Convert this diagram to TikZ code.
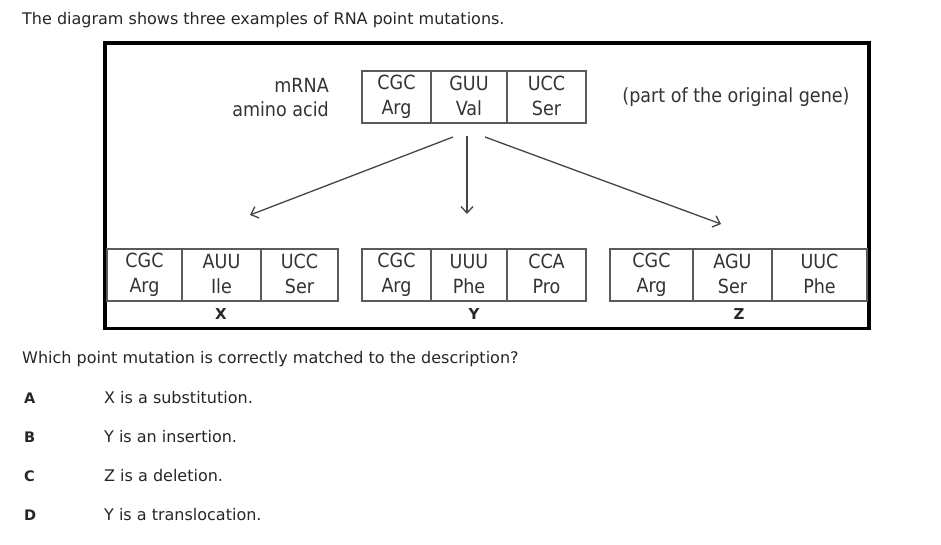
\documentclass[tikz,border=0pt]{standalone}
\usepackage{fontspec}
\setmainfont{DejaVu Sans}
\newfontfamily\condfont{DejaVu Sans Condensed}
\usetikzlibrary{arrows.meta}
\newcommand\cellstrut{\rule[-2pt]{0pt}{22pt}}
\definecolor{boxgray}{HTML}{5A5A5A}
\definecolor{txtgray}{HTML}{333333}
\definecolor{arrgray}{HTML}{444444}
\tikzset{
  cell/.style={draw=boxgray, line width=1.2pt, minimum height=52pt, inner sep=0pt,
    align=center, text=txtgray, font={\condfont\fontsize{19.5}{25}\selectfont},
    execute at begin node=\cellstrut, execute at end node=\cellstrut},
  side/.style={inner sep=0pt, text=txtgray, font={\condfont\fontsize{19.5}{22}\selectfont}},
  qtext/.style={inner sep=0pt, anchor=base west, text=black!85, font={\fontsize{16}{19}\selectfont}},
  choice/.style={inner sep=0pt, anchor=base west, text=black!85, font={\bfseries\fontsize{14.5}{17}\selectfont}},
  mut/.style={line width=1.3pt, draw=arrgray, -{Straight Barb[length=6.5pt,width=12pt,line width=1.3pt]}},
  lbl/.style={inner sep=0pt, text=black!85, font={\bfseries\fontsize{15}{18}\selectfont}}
}
\begin{document}
\begin{tikzpicture}[x=1pt,y=-1pt]
\useasboundingbox (0,0) rectangle (941,544);
% title
\node[qtext] (title) at (22,24) {The diagram shows three examples of RNA point mutations.};
% frame
\draw[line width=3.6pt, black] (105,43) rectangle (869,328.5);
% top box
\node[cell, minimum width=69pt] (t1) at (396.5,97) {CGC\\Arg};
\node[cell, minimum width=76pt] (t2) at (469,97) {GUU\\Val};
\node[cell, minimum width=79pt] (t3) at (546.5,97) {UCC\\Ser};
\node[side, anchor=east] (mrna) at (329,85) {mRNA};
\node[side, anchor=east] (aa) at (329,109) {amino acid};
\node[side] (orig) at (736,97) {(part of the original gene)};
% bottom boxes X
\node[cell, minimum width=75pt] (x1) at (144.5,275) {CGC\\Arg};
\node[cell, minimum width=79pt] (x2) at (221.5,275) {AUU\\Ile};
\node[cell, minimum width=77pt] (x3) at (299.5,275) {UCC\\Ser};
% Y
\node[cell, minimum width=69pt] (y1) at (396.5,275) {CGC\\Arg};
\node[cell, minimum width=76pt] (y2) at (469,275) {UUU\\Phe};
\node[cell, minimum width=79pt] (y3) at (546.5,275) {CCA\\Pro};
% Z
\node[cell, minimum width=83pt] (z1) at (651.5,275) {CGC\\Arg};
\node[cell, minimum width=79pt] (z2) at (732.5,275) {AGU\\Ser};
\node[cell, minimum width=95pt] (z3) at (819.5,275) {UUC\\Phe};
% labels
\node[lbl] (lx) at (221,314) {X};
\node[lbl] (ly) at (474,314) {Y};
\node[lbl] (lz) at (739,314) {Z};
% arrows
\coordinate (sl) at (453,137);
\coordinate (sm) at (467,136);
\coordinate (sr) at (485,137);
\coordinate (el) at (250,215);
\coordinate (em) at (467,214);
\coordinate (er) at (721,224);
\draw[mut] (sl) -- (el);
\draw[mut] (sm) -- (em);
\draw[mut] (sr) -- (er);
% question
\node[qtext] (q) at (22,363) {Which point mutation is correctly matched to the description?};
\node[choice] (ca) at (24,403) {A};
\node[qtext] (ta) at (104,403) {X is a substitution.};
\node[choice] (cb) at (24,442) {B};
\node[qtext] (tb) at (104,442) {Y is an insertion.};
\node[choice] (cc) at (24,481) {C};
\node[qtext] (tc) at (104,481) {Z is a deletion.};
\node[choice] (cd) at (24,520) {D};
\node[qtext] (td) at (104,520) {Y is a translocation.};
\end{tikzpicture}
\end{document}
